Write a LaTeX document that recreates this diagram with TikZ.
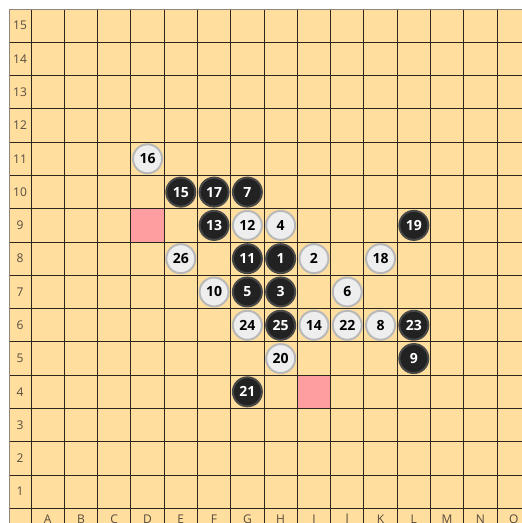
\documentclass[tikz,border=0pt]{standalone}
\usepackage{fontspec}
\setmainfont{Open Sans}
\definecolor{boardbg}{RGB}{255,222,158}
\definecolor{gridc}{RGB}{45,38,28}
\definecolor{edgec}{RGB}{140,135,125}
\definecolor{marksq}{RGB}{255,158,160}
\definecolor{wfill}{RGB}{238,238,238}
\definecolor{wedge}{RGB}{185,185,185}
\definecolor{bfill}{RGB}{34,34,34}
\definecolor{bedge}{RGB}{72,72,72}
\definecolor{labc}{RGB}{85,75,62}
\tikzset{
  stonebase/.style={circle, line width=2pt, minimum size=29pt, inner sep=0pt,
    font=\fontsize{14}{14}\selectfont\bfseries},
  wstone/.style={stonebase, fill=wfill, draw=wedge, text=black},
  bstone/.style={stonebase, fill=bfill, draw=bedge, text=white},
  lab/.style={font=\fontsize{12}{12}\selectfont, text=labc, inner sep=0pt},
  gridline/.style={draw=gridc, line width=1pt}
}
\begin{document}
\begin{tikzpicture}[x=1pt,y=-1pt]
\useasboundingbox (0,0) rectangle (522,523);
\clip (0,0) rectangle (522,523);
\def\s{33.29}
\fill[boardbg] (9,9) rectangle (530,530);
% marked cells D9 and I4
\fill[marksq] ({31+3*\s}, {9+6*\s}) rectangle ++(\s,\s);
\fill[marksq] ({31+8*\s}, {9+11*\s}) rectangle ++(\s,\s);
% grid
\foreach \k in {1,...,15} \draw[gridline] (9, {9+\k*\s}) -- (530, {9+\k*\s});
\foreach \k in {0,...,15} \draw[gridline] ({31+\k*\s}, 9) -- ({31+\k*\s}, 530);
\draw[edgec, line width=1pt] (9,530) -- (9,9) -- (530,9);
% row labels
\foreach \r in {1,...,15} \node[lab] (row\r) at (20, {9+(15.5-\r)*\s}) {\r};
% column labels
\foreach \l [count=\i] in {A,B,C,D,E,F,G,H,I,J,K,L,M,N,O}
  \node[lab] (col\l) at ({31+(\i-0.5)*\s}, 519.5) {\l};
% stones
\foreach \c/\r/\n/\t in {4/11/16/wstone, 5/10/15/bstone, 6/10/17/bstone, 7/10/7/bstone,
  6/9/13/bstone, 7/9/12/wstone, 8/9/4/wstone, 12/9/19/bstone,
  5/8/26/wstone, 7/8/11/bstone, 8/8/1/bstone, 9/8/2/wstone, 11/8/18/wstone,
  6/7/10/wstone, 7/7/5/bstone, 8/7/3/bstone, 10/7/6/wstone,
  7/6/24/wstone, 8/6/25/bstone, 9/6/14/wstone, 10/6/22/wstone, 11/6/8/wstone, 12/6/23/bstone,
  8/5/20/wstone, 12/5/9/bstone, 7/4/21/bstone}
  \node[\t] (s\n) at ({31+(\c-0.5)*\s}, {9+(15.5-\r)*\s}) {\n};
\end{tikzpicture}
\end{document}
